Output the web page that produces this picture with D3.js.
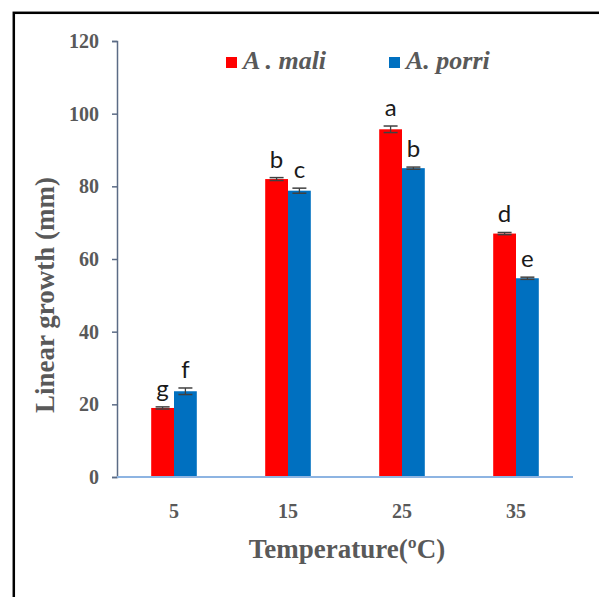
<!DOCTYPE html>
<html><head><meta charset="utf-8">
<script src="https://cdn.jsdelivr.net/npm/d3@7"></script>
<style>html,body{margin:0;padding:0;background:#fff;overflow:hidden}</style>
</head><body>
<svg id="chart" width="599" height="597"></svg>
<script>
const categories = ["5", "15", "25", "35"];
const seriesNames = ["A . mali", "A. porri"];
const maliValues = [19, 82, 95.7, 67];
const porriValues = [23.6, 78.8, 85, 54.7];
const maliErrors = [0.3, 0.4, 0.9, 0.3];
const porriErrors = [0.9, 0.7, 0.3, 0.3];
const maliLetters = ["g", "b", "a", "d"];
const porriLetters = ["f", "c", "b", "e"];
const yTicks = [0, 20, 40, 60, 80, 100, 120];
const colors = ["#ff0000", "#0070c0"];

const svg = d3.select("#chart");
svg.append("rect").attr("x", 13.8).attr("y", 12.8).attr("width", 700).attr("height", 700)
  .attr("fill", "none").attr("stroke", "#000").attr("stroke-width", 2.5);

const serif = "'Liberation Serif', 'Times New Roman', serif";
const x0 = 117, x1 = 573, yTop = 41, yBot = 477;
const x = d3.scaleBand().domain(categories).range([x0, x1]).padding(0);
const y = d3.scaleLinear().domain([0, 120]).range([yBot, yTop]);
const barW = x.bandwidth() * 0.2;
const series = [
  {name: seriesNames[0], values: maliValues, errs: maliErrors, letters: maliLetters, color: colors[0], off: -1},
  {name: seriesNames[1], values: porriValues, errs: porriErrors, letters: porriLetters, color: colors[1], off: 0}
];

// y axis
const yAxis = svg.append("g").attr("transform", `translate(${x0},0)`)
  .call(d3.axisLeft(y).tickValues(yTicks).tickSize(5).tickPadding(13).tickFormat(d3.format("d")));
yAxis.select(".domain").attr("stroke", "#5b6b85").attr("stroke-width", 1.5);
yAxis.selectAll(".tick line").attr("stroke", "#5b6b85").attr("stroke-width", 1.5);
yAxis.selectAll(".tick text").attr("fill", "#595959")
  .style("font-family", serif).style("font-weight", "bold").style("font-size", "20px");

// bars
series.forEach(s => {
  const g = svg.append("g");
  categories.forEach((c, i) => {
    const cx = x(c) + x.bandwidth() / 2;
    const bx = cx + s.off * barW;
    g.append("rect").attr("x", bx).attr("y", y(s.values[i]))
      .attr("width", barW).attr("height", y(0) - y(s.values[i])).attr("fill", s.color);
    const ex = bx + barW / 2;
    const top = y(s.values[i] + s.errs[i]), bot = y(s.values[i] - s.errs[i]);
    g.append("line").attr("x1", ex).attr("x2", ex).attr("y1", top).attr("y2", bot)
      .attr("stroke", "#404040").attr("stroke-width", 1.3);
    [top, bot].forEach(yy => g.append("line").attr("x1", ex - 7).attr("x2", ex + 7)
      .attr("y1", yy).attr("y2", yy).attr("stroke", "#404040").attr("stroke-width", 1.5));
    g.append("text").attr("x", ex).attr("y", top - 10).attr("text-anchor", "middle")
      .attr("fill", "#1a1a1a").style("font-family", "Lato, 'Open Sans', sans-serif")
      .style("font-size", "24px").text(s.letters[i]);
  });
});

// x axis
svg.append("line").attr("x1", x0).attr("x2", x1).attr("y1", yBot).attr("y2", yBot)
  .attr("stroke", "#8db4e2").attr("stroke-width", 2);
const xAxis = svg.append("g").attr("transform", `translate(0,${yBot})`)
  .call(d3.axisBottom(x).tickSize(0).tickPadding(27));
xAxis.select(".domain").remove();
xAxis.selectAll(".tick text").attr("fill", "#595959")
  .style("font-family", serif).style("font-weight", "bold").style("font-size", "20px");

// titles
svg.append("text").attr("x", 347).attr("y", 558).attr("text-anchor", "middle")
  .attr("fill", "#595959").style("font-family", serif)
  .style("font-weight", "bold").style("font-size", "27px").text("Temperature(ºC)");
svg.append("text").attr("transform", "translate(54,295) rotate(-90)").attr("text-anchor", "middle")
  .attr("fill", "#595959").style("font-family", serif)
  .style("font-weight", "bold").style("font-size", "27px").text("Linear growth (mm)");

// legend
const legX = [226, 389];
series.forEach((s, i) => {
  svg.append("rect").attr("x", legX[i]).attr("y", 57).attr("width", 11).attr("height", 11).attr("fill", s.color);
  svg.append("text").attr("x", legX[i] + 17).attr("y", 69).attr("fill", "#595959")
    .style("font-family", serif).style("font-weight", "bold").style("font-style", "italic")
    .style("font-size", "26px").text(s.name);
});
</script>
</body></html>
